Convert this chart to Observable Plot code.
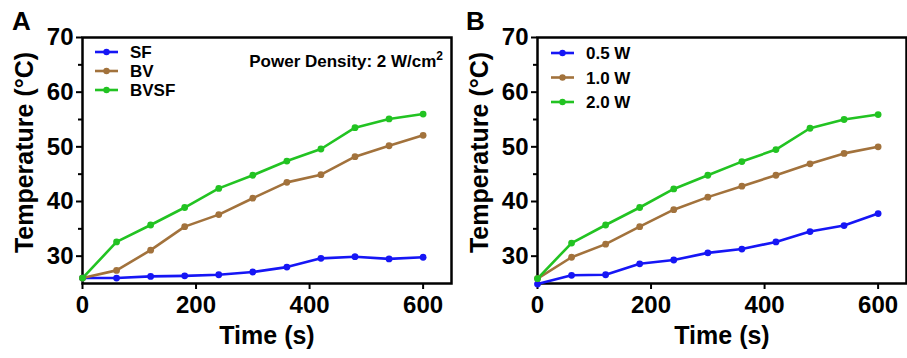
<!DOCTYPE html>
<html>
<head>
<meta charset="utf-8">
<script src="https://cdn.jsdelivr.net/npm/d3@7"></script>
<script src="https://cdn.jsdelivr.net/npm/@observablehq/plot@0.6"></script>
<style>
  html, body { margin: 0; padding: 0; background: #fff; }
  #wrap { display: flex; width: 907px; height: 358px; position: relative; }
  .panel { position: relative; }
  .tag { position: absolute; font: bold 26px "Liberation Sans", Arial, sans-serif; color: #000; line-height: 1; }
</style>
</head>
<body>
<div id="wrap"></div>
<script>
// ---- data ----
const time = [0, 60, 120, 180, 240, 300, 360, 420, 480, 540, 600];

// Panel A
const seriesA = ["SF", "BV", "BVSF"];
const sfA   = [26.0, 26.0, 26.3, 26.4, 26.6, 27.1, 28.0, 29.6, 29.9, 29.5, 29.8];
const bvA   = [26.0, 27.4, 31.1, 35.4, 37.6, 40.6, 43.5, 44.9, 48.2, 50.2, 52.1];
const bvsfA = [26.0, 32.6, 35.7, 38.9, 42.4, 44.8, 47.4, 49.6, 53.5, 55.1, 56.0];

// Panel B
const seriesB = ["0.5 W", "1.0 W", "2.0 W"];
const w05B = [24.9, 26.5, 26.6, 28.6, 29.3, 30.6, 31.3, 32.6, 34.5, 35.6, 37.8];
const w10B = [25.9, 29.8, 32.2, 35.4, 38.5, 40.8, 42.8, 44.8, 46.9, 48.8, 50.0];
const w20B = [25.9, 32.4, 35.7, 38.9, 42.3, 44.8, 47.3, 49.5, 53.4, 55.0, 55.9];

const colors = ["#1616f5", "#a2723c", "#22c322"];
const xTicks = [0, 200, 400, 600];
const yTicks = [30, 40, 50, 60, 70];
const yMinor = [35, 45, 55, 65];
const xLabel = "Time (s)";
const yLabel = "Temperature (°C)";
const annotationA = "Power Density: 2 W/cm";

function toRows(names, arrays) {
  const rows = [];
  names.forEach((n, k) => arrays[k].forEach((v, i) => rows.push({series: n, t: time[i], temp: v})));
  return rows;
}

function makePanel(cfg) {
  const rows = toRows(cfg.names, cfg.arrays);
  const font = '"Liberation Sans", Arial, sans-serif';
  const plot = Plot.plot({
    width: cfg.width,
    height: 358,
    marginLeft: cfg.marginLeft,
    marginRight: cfg.marginRight,
    marginTop: 37,
    marginBottom: 75,
    style: {fontFamily: font, fontWeight: "bold", fontSize: "24px", color: "#000", background: "#fff"},
    x: {domain: [0, 650]},
    y: {domain: [25, 70]},
    color: {domain: cfg.names, range: colors},
    marks: [
      Plot.axisX({ticks: xTicks, tickSize: 6, tickPadding: 6, strokeWidth: 2, label: null}),
      Plot.axisY({ticks: yTicks, tickSize: 6, tickPadding: 3, strokeWidth: 2, label: null}),
      Plot.axisY({ticks: yMinor, tickSize: 4, strokeWidth: 2, text: null, label: null}),
      Plot.frame({stroke: "#000", strokeWidth: 2.5}),
      Plot.line(rows, {x: "t", y: "temp", z: "series", stroke: "series", strokeWidth: 2.6}),
      Plot.dot(rows, {x: "t", y: "temp", fill: "series", r: 3.4}),
      Plot.text([xLabel], {frameAnchor: "bottom", dy: 52, text: d => d, fontSize: 25, fontWeight: "bold", lineAnchor: "middle", textAnchor: "middle"}),
      Plot.text([yLabel], {frameAnchor: "left", dx: cfg.yLabelDx, dy: -8, rotate: -90, text: d => d, fontSize: 25, fontWeight: "bold", lineAnchor: "middle", textAnchor: "middle"})
    ]
  });
  // legend
  const svg = d3.select(plot);
  const g = svg.append("g").attr("text-anchor", "start");
  cfg.names.forEach((n, i) => {
    const y = cfg.legendY0 + i * cfg.legendStep;
    g.append("line").attr("x1", cfg.legendX).attr("x2", cfg.legendX + 23).attr("y1", y).attr("y2", y)
      .attr("stroke", colors[i]).attr("stroke-width", 2.6);
    g.append("circle").attr("cx", cfg.legendX + 11.5).attr("cy", y).attr("r", 3.2).attr("fill", colors[i]);
    g.append("text").attr("x", cfg.legendX + 35).attr("y", y).attr("dy", "0.36em")
      .attr("text-anchor", "start")
      .attr("font-size", 17).attr("font-weight", "bold").attr("fill", "#000").text(n);
  });
  if (cfg.annotation) {
    const t = g.append("text").attr("x", 443).attr("y", 67).attr("text-anchor", "end")
      .attr("font-size", 17).attr("font-weight", "bold").attr("fill", "#000");
    t.append("tspan").text(cfg.annotation);
    t.append("tspan").attr("dy", -7).attr("font-size", 12).text("2");
  }
  const div = document.createElement("div");
  div.className = "panel";
  div.style.width = cfg.width + "px";
  div.appendChild(plot);
  const tag = document.createElement("div");
  tag.className = "tag";
  tag.textContent = cfg.tag;
  tag.style.left = cfg.tagX + "px";
  tag.style.top = "8px";
  div.appendChild(tag);
  return div;
}

const wrap = document.getElementById("wrap");
wrap.appendChild(makePanel({
  names: seriesA, arrays: [sfA, bvA, bvsfA], width: 453, marginLeft: 82, marginRight: 2,
  yLabelDx: -58, legendX: 95, legendY0: 52, legendStep: 19, annotation: annotationA, tag: "A", tagX: 12
}));
wrap.appendChild(makePanel({
  names: seriesB, arrays: [w05B, w10B, w20B], width: 454, marginLeft: 84, marginRight: 1,
  yLabelDx: -58, legendX: 98, legendY0: 53, legendStep: 24.5, annotation: null, tag: "B", tagX: 13
}));
</script>
</body>
</html>
